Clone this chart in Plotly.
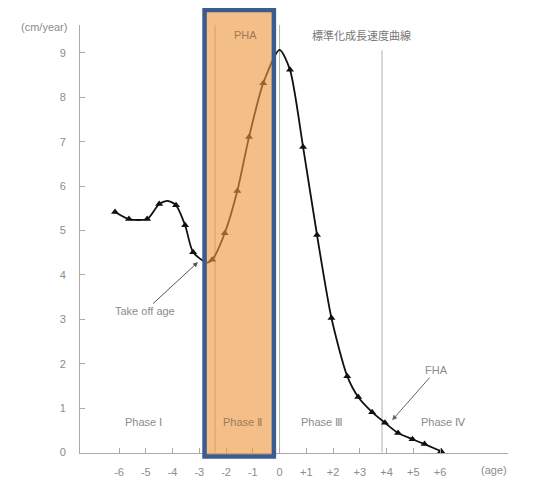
import plotly.graph_objects as go

# Growth velocity curve (age relative to PHA, cm/year)
curve_x = [-6.15, -5.63, -4.95, -4.50, -4.18, -3.87, -3.53, -3.23, -2.72, -2.52, -2.05, -1.58,
           -1.14, -0.61, 0.00, 0.39, 0.88, 1.40, 1.94, 2.53, 2.94, 3.46, 3.94, 4.43, 4.97, 5.42, 6.04]
curve_y = [5.42, 5.26, 5.26, 5.60, 5.67, 5.57, 5.12, 4.51, 4.28, 4.34, 4.94, 5.89,
           7.11, 8.32, 9.07, 8.62, 6.88, 4.90, 3.03, 1.72, 1.25, 0.91, 0.67, 0.44, 0.30, 0.19, 0.03]
has_marker = [1, 1, 1, 1, 0, 1, 1, 1, 0, 1, 1, 1,
              1, 1, 0, 1, 1, 1, 1, 1, 1, 1, 1, 1, 1, 1, 1]

x_tick_vals = [-6, -5, -4, -3, -2, -1, 0, 1, 2, 3, 4, 5, 6]
x_tick_text = ["-6", "-5", "-4", "-3", "-2", "-1", "0", "+1", "+2", "+3", "+4", "+5", "+6"]
y_tick_vals = [0, 1, 2, 3, 4, 5, 6, 7, 8, 9]

ref_lines_x = [-2.41, 0.0, 3.83]
ref_lines_top = [9.63, 9.63, 9.06]

phase_labels = ["Phase Ⅰ", "Phase Ⅱ", "Phase Ⅲ", "Phase Ⅳ"]
phase_x = [-5.1, -1.40, 1.59, 6.11]

mk_x = [x for x, m in zip(curve_x, has_marker) if m]
mk_y = [y for y, m in zip(curve_y, has_marker) if m]

GRAY = "#8c8c8c"
FONT = "Liberation Sans"

fig = go.Figure()
fig.add_trace(go.Scatter(x=curve_x, y=curve_y, mode="lines",
                         line=dict(color="#111111", width=1.8, shape="spline", smoothing=0.7),
                         hoverinfo="skip", showlegend=False))
fig.add_trace(go.Scatter(x=mk_x, y=mk_y, mode="markers",
                         marker=dict(symbol="triangle-up", size=7, color="#111111"),
                         showlegend=False))

shapes = []
for xv, top in zip(ref_lines_x, ref_lines_top):
    shapes.append(dict(type="line", xref="x", yref="y", x0=xv, x1=xv, y0=0, y1=top,
                       line=dict(color="#b0b0b0", width=1), layer="below"))
# highlighted PHA region box
shapes.append(dict(type="rect", xref="paper", yref="paper", x0=0.291, x1=0.453, y0=-0.008, y1=1.035,
                   fillcolor="rgba(236,150,62,0.62)", line=dict(color="#3B5C8E", width=4.5),
                   layer="above"))

annotations = [
    dict(text="(cm/year)", xref="paper", yref="paper", x=-0.084, y=0.995, xanchor="center",
         yanchor="middle", showarrow=False, font=dict(size=11, color=GRAY, family=FONT)),
    dict(text="(age)", xref="paper", yref="paper", x=0.968, y=-0.04, xanchor="center",
         yanchor="middle", showarrow=False, font=dict(size=11, color=GRAY, family=FONT)),
    dict(text="PHA", x=-1.29, y=9.40, showarrow=False, font=dict(size=11, color="#a07a58", family=FONT)),
    dict(text="標準化成長速度曲線", x=3.08, y=9.40, showarrow=False,
         font=dict(size=11, color="#777777", family="Noto Sans CJK JP")),
    dict(text="Take off age", x=-3.05, y=4.29, ax=-53, ay=49, showarrow=True, arrowhead=2,
         arrowsize=1, arrowwidth=1, arrowcolor="#555555", font=dict(size=11, color=GRAY, family=FONT)),
    dict(text="FHA", x=4.21, y=0.73, ax=44, ay=-50, showarrow=True, arrowhead=2,
         arrowsize=1, arrowwidth=1, arrowcolor="#666666", font=dict(size=11, color=GRAY, family=FONT)),
]
for lab, px in zip(phase_labels, phase_x):
    col = "#a07a58" if lab == "Phase Ⅱ" else GRAY
    annotations.append(dict(text=lab, x=px, y=0.69, showarrow=False,
                            font=dict(size=11, color=col, family=FONT)))

fig.update_layout(
    width=526, height=473,
    margin=dict(l=72, r=26, t=17, b=28, autoexpand=False),
    paper_bgcolor="white", plot_bgcolor="white",
    shapes=shapes, annotations=annotations,
    font=dict(family=FONT, size=11, color=GRAY),
    xaxis=dict(range=[-7.46, 8.54], tickvals=x_tick_vals, ticktext=x_tick_text, automargin=False,
               showgrid=False, zeroline=False, showline=True, linecolor="#aaaaaa", linewidth=1,
               ticks="inside", ticklen=5, tickcolor="#aaaaaa", tickfont=dict(size=11, color=GRAY),
               ticklabelstandoff=9),
    yaxis=dict(range=[-0.01, 9.63], tickvals=y_tick_vals, automargin=False,
               showgrid=False, zeroline=False, showline=True, linecolor="#aaaaaa", linewidth=1,
               ticks="inside", ticklen=5, tickcolor="#aaaaaa", tickfont=dict(size=11, color=GRAY),
               ticklabelstandoff=11),
)

fig.write_html("out.html")
